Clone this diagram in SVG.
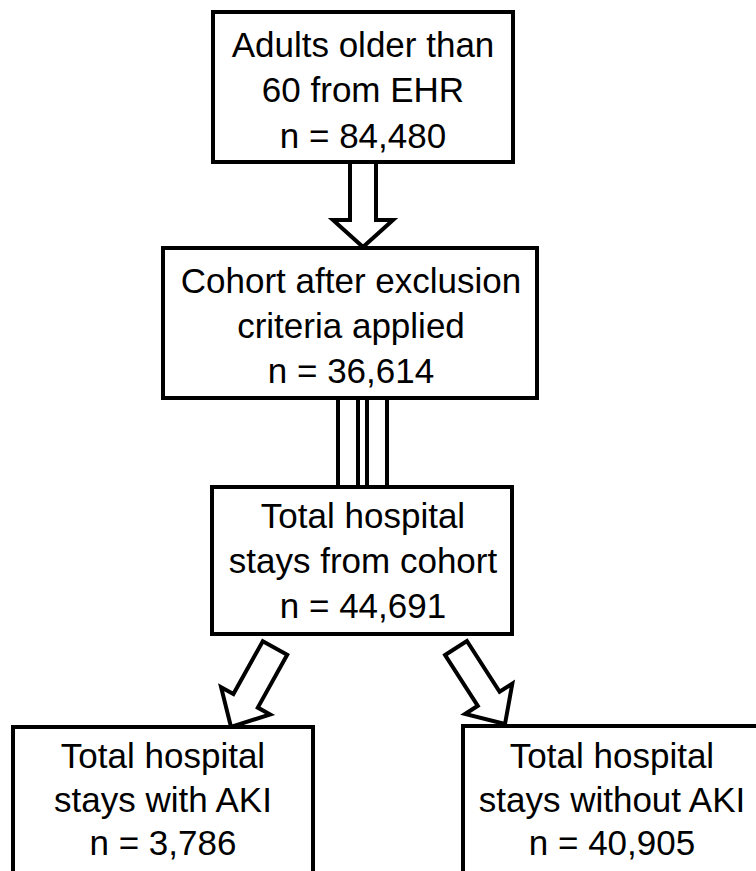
<svg xmlns="http://www.w3.org/2000/svg" width="756" height="871" viewBox="0 0 756 871">
<style>
.box{fill:#fff;stroke:#000;stroke-width:4}
.arr{fill:#fff;stroke:#000;stroke-width:4;stroke-linejoin:miter}
.ln{stroke:#000;stroke-width:4;fill:none}
text{font-family:"Liberation Sans",Arial,sans-serif;font-size:35px;fill:#000;text-anchor:middle}
</style>
<rect width="756" height="871" fill="#fff"/>
<g id="connectors">
<polygon class="arr" points="350,162 376,162 376,220 393,220 363,247 333,220 350,220"/>
<line class="ln" x1="338" y1="398" x2="338" y2="487"/>
<line class="ln" x1="358" y1="398" x2="358" y2="487"/>
<line class="ln" x1="367" y1="398" x2="367" y2="487"/>
<line class="ln" x1="387" y1="398" x2="387" y2="487"/>
<polygon class="arr" points="262.8,641.2 287.2,654.8 257.8,707.6 270.1,714.4 231,727 221.1,687.2 233.4,694.0"/>
<polygon class="arr" points="445.1,655.0 466.9,641.0 499.6,691.8 512.3,683.6 505,724 465.1,714.0 477.8,705.8"/>
</g>
<g id="n1">
<rect class="box" x="213" y="12" width="300" height="150"/>
<text x="363" y="57">Adults older than</text>
<text x="363" y="102">60 from EHR</text>
<text x="363" y="148">n = 84,480</text>
</g>
<g id="n2">
<rect class="box" x="163" y="248" width="374" height="150"/>
<text x="351" y="293">Cohort after exclusion</text>
<text x="351" y="338">criteria applied</text>
<text x="351" y="383">n = 36,614</text>
</g>
<g id="n3">
<rect class="box" x="212" y="487" width="300" height="147"/>
<text x="363" y="528">Total hospital</text>
<text x="363" y="573">stays from cohort</text>
<text x="363" y="618">n = 44,691</text>
</g>
<g id="n4">
<rect class="box" x="13" y="727" width="300" height="160"/>
<text x="163" y="768">Total hospital</text>
<text x="163" y="812">stays with AKI</text>
<text x="163" y="855">n = 3,786</text>
</g>
<g id="n5">
<rect class="box" x="463" y="726" width="300" height="160"/>
<text x="612" y="768">Total hospital</text>
<text x="612" y="812">stays without AKI</text>
<text x="612" y="855">n = 40,905</text>
</g>
</svg>
